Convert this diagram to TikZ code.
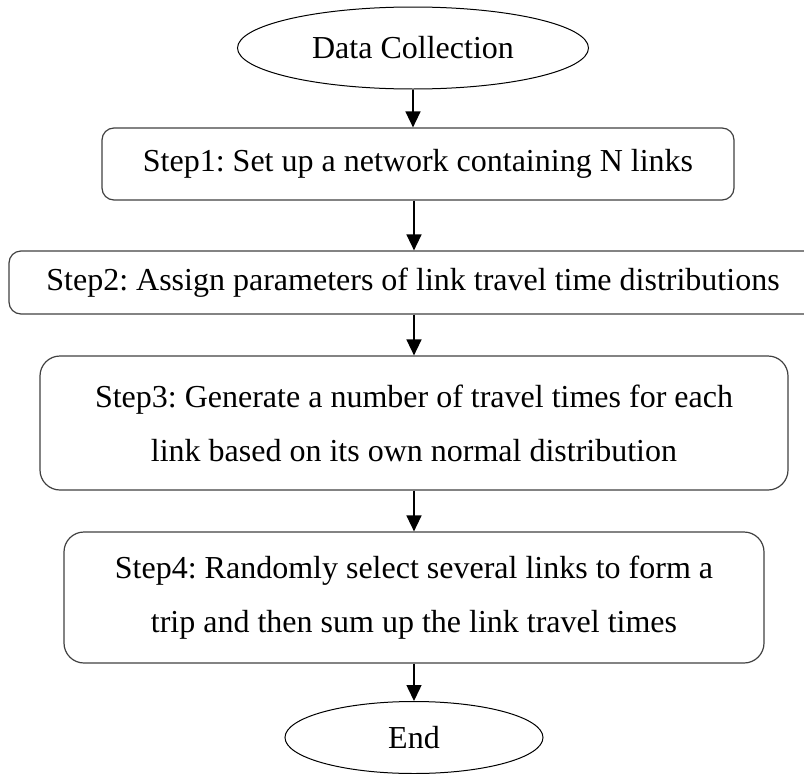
\documentclass[tikz,border=0pt]{standalone}
\usepackage{fontspec}
\setmainfont{Liberation Serif}
\usetikzlibrary{shapes.geometric,arrows.meta}
\begin{document}
\frenchspacing
\begin{tikzpicture}[x=1pt,y=-1pt,
  every node/.style={font=\fontsize{32}{54}\selectfont\frenchspacing, inner sep=0pt, align=center},
  oval/.style={draw=black, line width=1pt, ellipse},
  stepbox/.style={draw=black!75, line width=1.2pt, rectangle, rounded corners=#1},
  stepbox/.default=12pt,
  arr/.style={draw=black, line width=1.5pt, -{Triangle[length=16pt,width=15pt]}}]
\useasboundingbox (0,0) rectangle (804,774);
\clip (0,0) rectangle (804,774);
\node[oval, minimum width=351pt, minimum height=82pt] (dc) at (413,48) {Data Collection};
\node[stepbox, minimum width=632pt, minimum height=72pt] (s1) at (418,164) {Step1: Set up a network containing N links};
\node[stepbox, minimum width=808pt, minimum height=63pt] (s2) at (413,282.5) {Step2: Assign parameters of link travel time distributions};
\node[stepbox=20pt, minimum width=748pt, minimum height=134pt] (s3) at (414,423) {Step3: Generate a number of travel times for each\\link based on its own normal distribution};
\node[stepbox=20pt, minimum width=700pt, minimum height=131pt] (s4) at (414,597.5) {Step4: Randomly select several links to form a\\trip and then sum up the link travel times};
\node[oval, minimum width=258pt, minimum height=72pt] (en) at (414,737.5) {End};
\draw[arr] (dc.south) -- (dc.south |- s1.north);
\draw[arr] (s1.south -| s3.south) -- (s2.north -| s3.south);
\draw[arr] (s2.south -| s3.south) -- (s3.north);
\draw[arr] (s3.south) -- (s4.north);
\draw[arr] (s4.south) -- (en.north);
\end{tikzpicture}
\end{document}
